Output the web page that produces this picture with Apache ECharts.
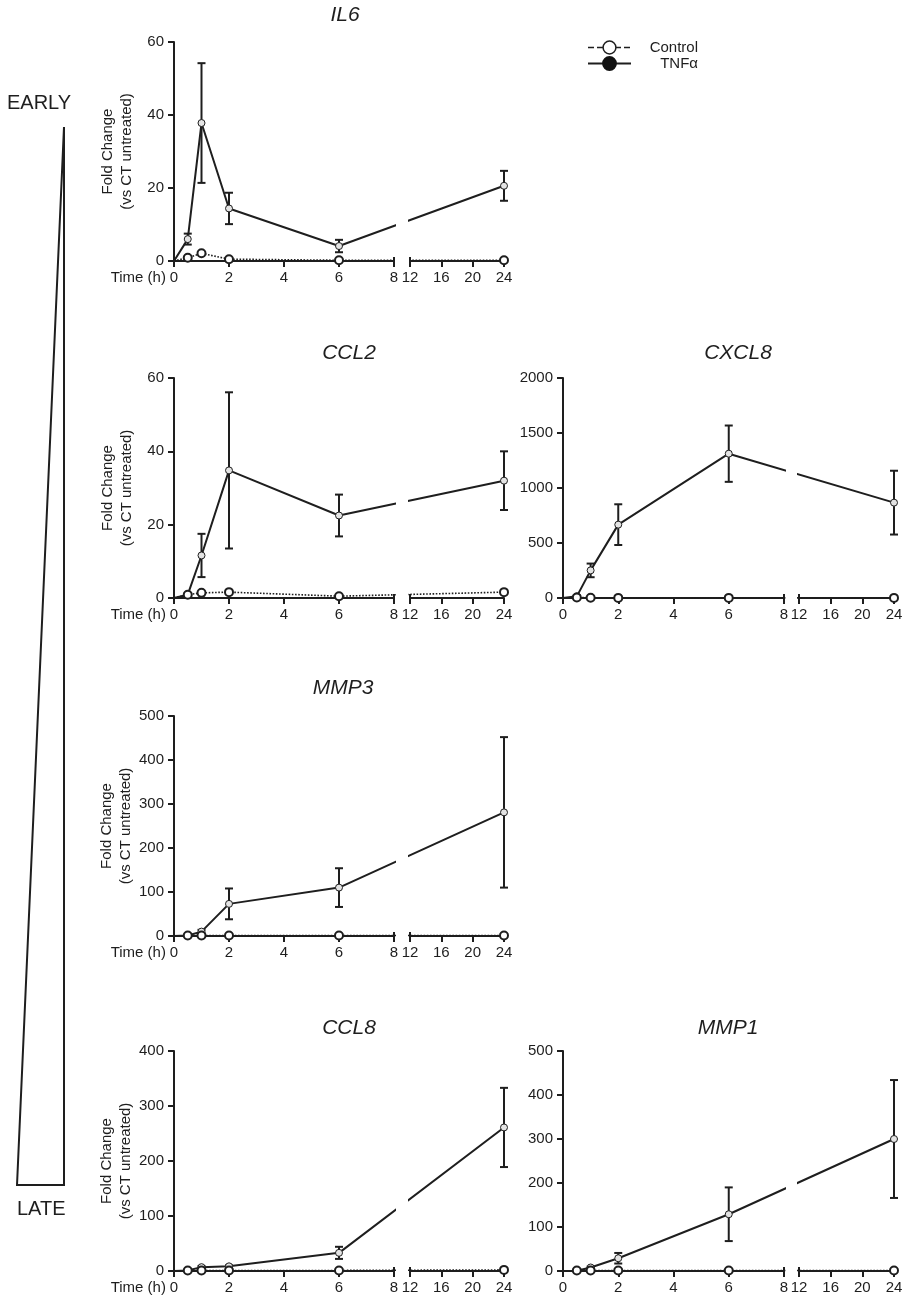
<!DOCTYPE html>
<html><head><meta charset="utf-8">
<script src="https://cdn.jsdelivr.net/npm/echarts@6/dist/echarts.min.js"></script>
<style>html,body{margin:0;padding:0;background:#fff}#c{width:903px;height:1305px}</style>
</head><body><div id="c"></div>
<script>
// ---------------- data ----------------
const times = [0, 0.5, 1, 2, 6, 24];          // hours
const earlyTicks = [0, 2, 4, 6, 8];
const lateTicks = [12, 16, 20, 24];

const il6Tnf    = [0, 6.0, 37.8, 14.4, 4.1, 20.6];
const il6TnfErr = [0, 1.5, 16.4, 4.3, 1.7, 4.1];
const il6Ctl    = [0, 0.9, 2.1, 0.5, 0.2, 0.2];

const ccl2Tnf    = [0, 0.9, 11.6, 34.8, 22.5, 32.0];
const ccl2TnfErr = [0, 0.3, 5.9, 21.3, 5.7, 8.0];
const ccl2Ctl    = [0, 0.9, 1.4, 1.6, 0.5, 1.6];

const cxcl8Tnf    = [0, 15, 251, 667, 1312, 867];
const cxcl8TnfErr = [0, 10, 62, 185, 256, 290];
const cxcl8Ctl    = [0, 5, 3, 1, 1, 1];

const mmp3Tnf    = [0, 1, 10, 73, 110, 281];
const mmp3TnfErr = [0, 0.5, 4, 35, 44, 171];
const mmp3Ctl    = [0, 1, 1, 1, 1, 1];

const ccl8Tnf    = [0, 1, 7, 8.5, 33, 261];
const ccl8TnfErr = [0, 0.5, 2, 2, 11, 72];
const ccl8Ctl    = [0, 1, 1, 1, 1, 2];

const mmp1Tnf    = [0, 0.5, 8, 29, 129, 300];
const mmp1TnfErr = [0, 0.5, 2, 12, 61, 134];
const mmp1Ctl    = [0, 1, 1, 1, 1, 1];

// ---------------- layout & style ----------------
const FONT = '"Liberation Sans", Arial, Helvetica, sans-serif';
const INK = '#1e1e1e';
const FS = 15;
const COLS = [{x:174, w1:220, gap:16, w2:94}, {x:563, w1:221, gap:15, w2:95}];
const ROWS = [{top:42,bottom:261},{top:378,bottom:598},{top:716,bottom:936},{top:1051,bottom:1271}];

const panels = [
  {title:'IL6',   col:0,row:0, yMax:60,   yStep:20,  tnf:il6Tnf,   err:il6TnfErr,   ctl:il6Ctl,   names:true,  tx:340, ty:0},
  {title:'CCL2',  col:0,row:1, yMax:60,   yStep:20,  tnf:ccl2Tnf,  err:ccl2TnfErr,  ctl:ccl2Ctl,  names:true,  tx:344, ty:338},
  {title:'CXCL8', col:1,row:1, yMax:2000, yStep:500, tnf:cxcl8Tnf, err:cxcl8TnfErr, ctl:cxcl8Ctl, names:false, tx:733, ty:338},
  {title:'MMP3',  col:0,row:2, yMax:500,  yStep:100, tnf:mmp3Tnf,  err:mmp3TnfErr,  ctl:mmp3Ctl,  names:true,  tx:338, ty:673},
  {title:'CCL8',  col:0,row:3, yMax:400,  yStep:100, tnf:ccl8Tnf,  err:ccl8TnfErr,  ctl:ccl8Ctl,  names:true,  tx:344, ty:1013},
  {title:'MMP1',  col:1,row:3, yMax:500,  yStep:100, tnf:mmp1Tnf,  err:mmp1TnfErr,  ctl:mmp1Ctl,  names:false, tx:723, ty:1013}
];

// broken time axis: 0-8 h and 12-24 h drawn at different scales (GraphPad style)
function brokenScale(t, c) {
  const k = c.w1 / (earlyTicks[earlyTicks.length-1] - earlyTicks[0]);
  const e = earlyTicks[earlyTicks.length-1];
  if (t <= e) return t;
  const l0 = lateTicks[0], l1 = lateTicks[lateTicks.length-1];
  return e + c.gap / k + (t - l0) / (l1 - l0) * c.w2 / k;
}

const plainNum = v => String(v);

function xAxisMain(gi, ticks, name) {
  return {
    gridIndex: gi, type: 'value', position: 'bottom',
    min: ticks[0], max: ticks[ticks.length-1], interval: ticks[1]-ticks[0],
    axisLine: {show: true, onZero: false, lineStyle: {color: INK, width: 2}},
    axisTick: {show: true, inside: false, length: 6, lineStyle: {color: INK, width: 2}},
    axisLabel: {show: true, margin: 9, color: INK, fontSize: FS, fontFamily: FONT, showMinLabel: true, showMaxLabel: true, formatter: plainNum},
    splitLine: {show: false},
    name: name, nameLocation: 'start', nameGap: 5,
    nameTextStyle: {color: INK, fontSize: FS, fontFamily: FONT, verticalAlign: 'top', padding: [9, 0, 0, 0]}
  };
}
function breakBar(gi, ticks, at) {
  return {
    gridIndex: gi, type: 'value', position: 'bottom',
    min: ticks[0], max: ticks[ticks.length-1], interval: ticks[1]-ticks[0],
    axisLine: {show: false, onZero: false}, axisLabel: {show: false}, splitLine: {show: false},
    axisTick: {show: true, inside: true, length: 4, customValues: [at], lineStyle: {color: INK, width: 2}}
  };
}

const grid = [], xAxis = [], yAxis = [], series = [], title = [], masks = [];

function renderErr(params, api) {
  const x = api.value(0), lo = api.value(1), hi = api.value(2);
  const a = api.coord([x, lo]), b = api.coord([x, hi]);
  const cap = 4, st = {stroke: INK, lineWidth: 2};
  return {type: 'group', children: [
    {type: 'line', shape: {x1: a[0], y1: a[1], x2: b[0], y2: b[1]}, style: st},
    {type: 'line', shape: {x1: a[0]-cap, y1: a[1], x2: a[0]+cap, y2: a[1]}, style: st},
    {type: 'line', shape: {x1: b[0]-cap, y1: b[1], x2: b[0]+cap, y2: b[1]}, style: st}
  ]};
}

panels.forEach(p => {
  const c = COLS[p.col], r = ROWS[p.row], h = r.bottom - r.top;
  const gL = grid.length; grid.push({left: c.x, top: r.top, width: c.w1, height: h, outerBoundsMode: 'none', containLabel: false});
  const gR = grid.length; grid.push({left: c.x + c.w1 + c.gap, top: r.top, width: c.w2, height: h, outerBoundsMode: 'none', containLabel: false});
  const gD = grid.length; grid.push({left: c.x, top: r.top, width: c.w1 + c.gap + c.w2, height: h, outerBoundsMode: 'none', containLabel: false});

  xAxis.push(xAxisMain(gL, earlyTicks, p.names ? 'Time (h)' : ''));
  xAxis.push(breakBar(gL, earlyTicks, earlyTicks[earlyTicks.length-1]));
  xAxis.push(xAxisMain(gR, lateTicks, ''));
  xAxis.push(breakBar(gR, lateTicks, lateTicks[0]));
  const xD = xAxis.length;
  xAxis.push({gridIndex: gD, type: 'value', min: 0, max: brokenScale(lateTicks[lateTicks.length-1], c), show: false, splitLine: {show: false}});

  yAxis.push({
    gridIndex: gL, type: 'value', position: 'left', min: 0, max: p.yMax, interval: p.yStep,
    axisLine: {show: true, onZero: false, lineStyle: {color: INK, width: 2}},
    axisTick: {show: true, inside: false, length: 6, lineStyle: {color: INK, width: 2}},
    axisLabel: {margin: 10, color: INK, fontSize: FS, fontFamily: FONT, formatter: plainNum},
    splitLine: {show: false},
    name: p.names ? 'Fold Change\n(vs CT untreated)' : '', nameLocation: 'middle', nameGap: 38,
    nameTextStyle: {color: INK, fontSize: FS, fontFamily: FONT, lineHeight: 19}
  });
  yAxis.push({gridIndex: gR, type: 'value', min: 0, max: p.yMax, show: false, splitLine: {show: false}});
  const yD = yAxis.length;
  yAxis.push({gridIndex: gD, type: 'value', min: 0, max: p.yMax, show: false, splitLine: {show: false}});

  series.push({
    type: 'custom', name: 'TNFα err', xAxisIndex: xD, yAxisIndex: yD, renderItem: renderErr, z: 2,
    encode: {x: 0, y: [1, 2]}, silent: true,
    data: times.map((t, j) => [brokenScale(t, c), Math.max(0, p.tnf[j] - p.err[j]), p.tnf[j] + p.err[j]]).filter((d, j) => j > 0)
  });
  series.push({
    type: 'line', name: 'TNFα', xAxisIndex: xD, yAxisIndex: yD, z: 3, clip: false,
    symbol: 'circle', symbolSize: 7,
    lineStyle: {color: INK, width: 2},
    itemStyle: {color: '#e4e4e4', borderColor: INK, borderWidth: 1},
    data: times.map((t, j) => j === 0 ? {value: [brokenScale(t, c), p.tnf[j]], symbol: 'none'} : [brokenScale(t, c), p.tnf[j]])
  });
  series.push({
    type: 'line', name: 'Control', xAxisIndex: xD, yAxisIndex: yD, z: 4, clip: false,
    symbol: 'circle', symbolSize: 8,
    lineStyle: {color: INK, width: 1.6, type: 'dotted'},
    itemStyle: {color: '#ffffff', borderColor: INK, borderWidth: 2},
    data: times.map((t, j) => j === 0 ? {value: [brokenScale(t, c), p.ctl[j]], symbol: 'none'} : [brokenScale(t, c), p.ctl[j]])
  });

  title.push({text: p.title, left: p.tx, top: p.ty, textAlign: 'center',
    textStyle: {fontStyle: 'italic', fontWeight: 'normal', fontSize: 21, color: INK, fontFamily: FONT}});

  masks.push({type: 'rect', z: 100, silent: true,
    shape: {x: c.x + c.w1 + 2, y: r.top - 6, width: c.gap - 4, height: h + 12},
    style: {fill: '#ffffff'}});
});

const option = {
  backgroundColor: '#ffffff',
  animation: false,
  title: title,
  grid: grid, xAxis: xAxis, yAxis: yAxis, series: series,
  legend: {
    orient: 'vertical', left: 582, top: 35, itemWidth: 43, itemHeight: 16, itemGap: 1,
    selectedMode: false,
    formatter: '{a|{name}}',
    textStyle: {color: INK, fontSize: FS, fontFamily: FONT,
      rich: {a: {width: 62, align: 'right', fontSize: FS, fontFamily: FONT, color: INK}}},
    data: [
      {name: 'Control', lineStyle: {type: 'dashed', width: 1.5}, itemStyle: {color: '#fff', borderColor: INK, borderWidth: 1.5}},
      {name: 'TNFα', lineStyle: {width: 2}, itemStyle: {color: '#111', borderColor: '#111'}}
    ]
  },
  graphic: [
    {type: 'polygon', silent: true, shape: {points: [[64, 127], [17, 1185], [64, 1185]]},
     style: {fill: 'none', stroke: INK, lineWidth: 2}},
    {type: 'text', left: 7, top: 93, style: {text: 'EARLY', font: '20px ' + FONT, fill: INK}},
    {type: 'text', left: 17, top: 1199, style: {text: 'LATE', font: '20px ' + FONT, fill: INK}}
  ].concat(masks)
};

const chart = echarts.init(document.getElementById('c'), null, {renderer: 'canvas'});
chart.setOption(option);
</script>
</body></html>
